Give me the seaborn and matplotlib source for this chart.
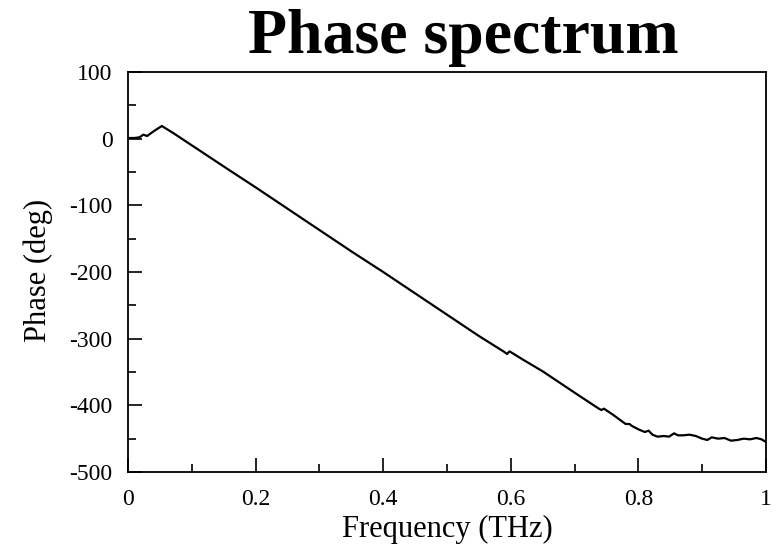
"""Phase spectrum chart."""

import matplotlib
matplotlib.use("Agg")
import matplotlib.pyplot as plt
from matplotlib.ticker import MultipleLocator, FuncFormatter
import pandas as pd
import seaborn as sns

# values
freq_thz = [
    0.000, 0.010, 0.018, 0.024, 0.030, 0.040, 0.053, 0.070, 0.100, 0.130,
    0.160, 0.200, 0.250, 0.300, 0.350, 0.400, 0.450, 0.500, 0.550, 0.590,
    0.594, 0.598, 0.620, 0.650, 0.700, 0.738, 0.742, 0.746, 0.760, 0.780,
    0.786, 0.790, 0.800, 0.810, 0.816, 0.822, 0.830, 0.840, 0.848, 0.856,
    0.862, 0.870, 0.880, 0.890, 0.900, 0.908, 0.915, 0.925, 0.935, 0.945,
    0.955, 0.965, 0.975, 0.985, 0.993, 1.000,
]
phase_deg = [
    1, 1, 2, 6, 4, 11, 19, 9, -10, -29,
    -48, -73, -105, -137, -169, -200, -232, -264, -296, -320,
    -323, -319, -332, -349, -381, -405, -407, -405, -414, -428,
    -428, -431, -436, -440, -438, -444, -447, -446, -447, -442,
    -445, -445, -444, -446, -450, -452, -448, -450, -449, -453,
    -452, -450, -451, -449, -451, -455,
]

df = pd.DataFrame({"Frequency": freq_thz, "Phase": phase_deg})

sns.set_theme(style="white")
plt.rcParams["font.family"] = ["Liberation Serif", "DejaVu Serif"]
plt.rcParams["axes.unicode_minus"] = False
plt.rcParams["text.color"] = "black"
plt.rcParams["axes.labelcolor"] = "black"

fig = plt.figure(figsize=(7.82, 5.47), dpi=100)
ax = fig.add_axes([128 / 782, 1 - 472 / 547, 638 / 782, 400 / 547])

sns.lineplot(data=df, x="Frequency", y="Phase", ax=ax, color="black",
             linewidth=1.6)

ax.set_xlim(0, 1)
ax.set_ylim(-500, 100)
ax.xaxis.set_major_locator(MultipleLocator(0.2))
ax.xaxis.set_minor_locator(MultipleLocator(0.1))
ax.yaxis.set_major_locator(MultipleLocator(100))
ax.yaxis.set_minor_locator(MultipleLocator(50))
ax.xaxis.set_major_formatter(FuncFormatter(lambda v, p: f"{v:g}"))
ax.yaxis.set_major_formatter(FuncFormatter(lambda v, p: f"{v:g}"))

ax.tick_params(which="both", direction="in", bottom=True, left=True,
               top=False, right=False, colors="black", labelsize=17,
               width=1.2)
ax.tick_params(axis="x", which="major", length=10, pad=12)
ax.tick_params(axis="y", which="major", length=10, pad=11)
ax.tick_params(which="minor", length=6)

for s in ax.spines.values():
    s.set_color("black")
    s.set_linewidth(1.3)

ax.set_xlabel("Frequency (THz)", fontsize=22)
ax.set_ylabel("Phase (deg)", fontsize=22)
ax.xaxis.set_label_coords(0.5, -0.108)
ax.yaxis.set_label_coords(-0.118, 0.505)
fig.text(0.593, 1 - 53 / 547, "Phase spectrum", fontsize=46,
         fontweight="bold", ha="center", va="baseline", color="black")

plt.savefig("out.png", dpi=100)
plt.close()
